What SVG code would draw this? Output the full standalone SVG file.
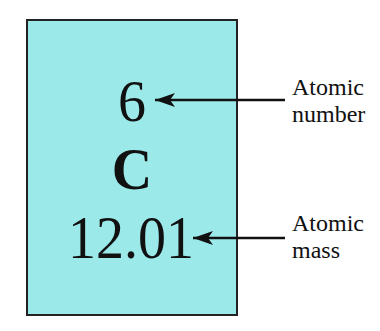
<svg xmlns="http://www.w3.org/2000/svg" width="380" height="331" viewBox="0 0 380 331">
  <style>
    .big { font-family: "Liberation Serif", "Times New Roman", serif; font-size: 56px; fill: #111; text-anchor: middle; }
    .bold { font-weight: bold; }
    .lbl { font-family: "Liberation Serif", "Times New Roman", serif; font-size: 24px; fill: #111; }
    .conn { stroke: #111; stroke-width: 2.4; fill: none; marker-end: url(#ah); }
  </style>
  <defs>
    <marker id="ah" markerUnits="userSpaceOnUse" markerWidth="22" markerHeight="16" refX="20" refY="7" orient="auto">
      <path d="M20,7 L0,0 L5,7 L0,14 Z" fill="#111"/>
    </marker>
  </defs>
  <rect width="380" height="331" fill="#ffffff"/>
  <g id="element">
    <rect x="27" y="20" width="210" height="295" fill="#9ce9ea" stroke="#222" stroke-width="2"/>
    <text class="big" transform="translate(132,121) scale(1,1.05)">6</text>
    <text class="big bold" transform="translate(132,189) scale(1,1.05)">C</text>
    <text class="big" transform="translate(131,258) scale(1,1.1)">12.01</text>
  </g>
  <g id="label-number">
    <text class="lbl" x="292" y="95">Atomic</text>
    <text class="lbl" x="292" y="122">number</text>
  </g>
  <g id="label-mass">
    <text class="lbl" x="292" y="231">Atomic</text>
    <text class="lbl" x="292" y="258">mass</text>
  </g>
  <g id="connectors">
    <line class="conn" x1="285" y1="100" x2="155" y2="100"/>
    <line class="conn" x1="285" y1="238" x2="193" y2="238"/>
  </g>
</svg>
